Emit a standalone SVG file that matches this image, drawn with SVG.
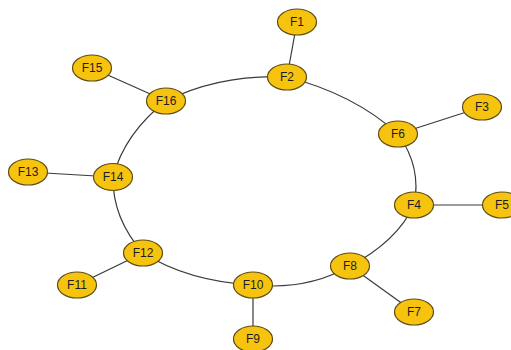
<svg xmlns="http://www.w3.org/2000/svg" width="511" height="350" viewBox="0 0 511 350">
<style>
.n ellipse{fill:#F6C30F;stroke:#5e4d12;stroke-width:1.2}
.n text{font-family:"Liberation Sans",Arial,sans-serif;font-size:12px;fill:#1e1e1e;text-anchor:middle;dominant-baseline:central}
#edges path,#edges line{stroke:#3a3a3a;stroke-width:1.2;fill:none}
</style>
<rect width="511" height="350" fill="#fff"/>
<g id="edges">
<path d="M166,101 Q220.6,74 287,77"/>
<path d="M287,77 Q353.5,93.8 398,134"/>
<path d="M398,134 Q422,167.5 414,205"/>
<path d="M414,205 Q396.8,241.6 350,266"/>
<path d="M350,266 Q307.6,290.4 253,285"/>
<path d="M253,285 Q187.8,281.3 143,253"/>
<path d="M143,253 Q112.3,218.2 113,177"/>
<path d="M113,177 Q124.6,133.2 166,101"/>
<line x1="297" y1="22" x2="287" y2="77"/>
<line x1="92" y1="68" x2="166" y2="101"/>
<line x1="28" y1="172" x2="113" y2="177"/>
<line x1="77" y1="285" x2="143" y2="253"/>
<line x1="253" y1="339" x2="253" y2="285"/>
<line x1="414" y1="312" x2="350" y2="266"/>
<line x1="502" y1="205" x2="414" y2="205"/>
<line x1="482" y1="107" x2="398" y2="134"/>
</g>
<g id="F1" class="n"><ellipse cx="297" cy="22" rx="19.5" ry="13"/><text x="297" y="22">F1</text></g>
<g id="F2" class="n"><ellipse cx="287" cy="77" rx="19.5" ry="13"/><text x="287" y="77">F2</text></g>
<g id="F3" class="n"><ellipse cx="482" cy="107" rx="19.5" ry="13"/><text x="482" y="107">F3</text></g>
<g id="F4" class="n"><ellipse cx="414" cy="205" rx="19.5" ry="13"/><text x="414" y="205">F4</text></g>
<g id="F5" class="n"><ellipse cx="502" cy="205" rx="19.5" ry="13"/><text x="502" y="205">F5</text></g>
<g id="F6" class="n"><ellipse cx="398" cy="134" rx="19.5" ry="13"/><text x="398" y="134">F6</text></g>
<g id="F7" class="n"><ellipse cx="414" cy="312" rx="19.5" ry="13"/><text x="414" y="312">F7</text></g>
<g id="F8" class="n"><ellipse cx="350" cy="266" rx="19.5" ry="13"/><text x="350" y="266">F8</text></g>
<g id="F9" class="n"><ellipse cx="253" cy="339" rx="19.5" ry="13"/><text x="253" y="339">F9</text></g>
<g id="F10" class="n"><ellipse cx="253" cy="285" rx="19.5" ry="13"/><text x="253" y="285">F10</text></g>
<g id="F11" class="n"><ellipse cx="77" cy="285" rx="19.5" ry="13"/><text x="77" y="285">F11</text></g>
<g id="F12" class="n"><ellipse cx="143" cy="253" rx="19.5" ry="13"/><text x="143" y="253">F12</text></g>
<g id="F13" class="n"><ellipse cx="28" cy="172" rx="19.5" ry="13"/><text x="28" y="172">F13</text></g>
<g id="F14" class="n"><ellipse cx="113" cy="177" rx="19.5" ry="13.5"/><text x="113" y="177">F14</text></g>
<g id="F15" class="n"><ellipse cx="92" cy="68" rx="19.5" ry="13"/><text x="92" y="68">F15</text></g>
<g id="F16" class="n"><ellipse cx="166" cy="101" rx="19.5" ry="13"/><text x="166" y="101">F16</text></g>
</svg>
